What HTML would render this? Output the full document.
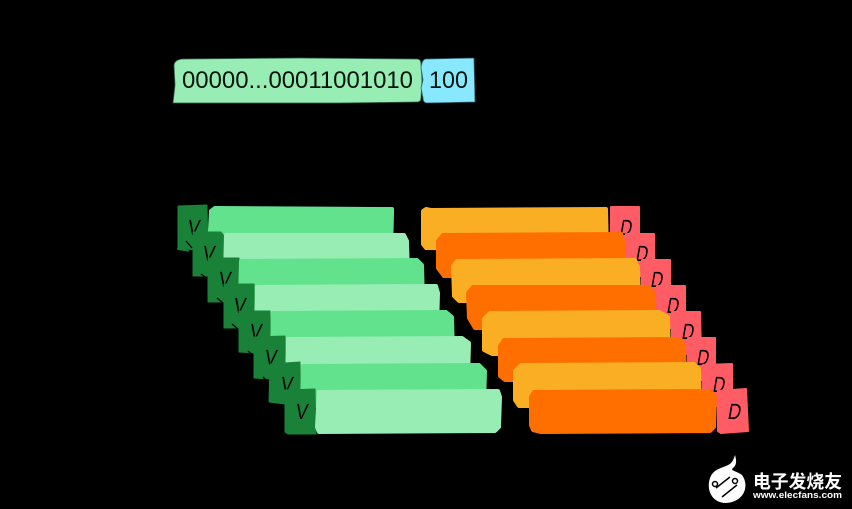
<!DOCTYPE html>
<html><head><meta charset="utf-8"><style>
html,body{margin:0;padding:0;background:#000;width:852px;height:509px;overflow:hidden}
svg{display:block}
.b{stroke-linejoin:round;stroke-width:4}
.lg{fill:#98EDB4;stroke:#98EDB4}.mg{fill:#63E28D;stroke:#63E28D}.dg{fill:#1A8238;stroke:#1A8238;stroke-width:1;stroke-linejoin:round}
.yo{fill:#F9AE23;stroke:#F9AE23}.or{fill:#FF6F00;stroke:#FF6F00}.rd{fill:#FF5C65;stroke:#FF5C65;stroke-width:2;stroke-linejoin:round}
.v,.d{font:22px "Liberation Sans",sans-serif;fill:#000}
.t{stroke:#000;stroke-width:1.3;fill:none}
</style></head><body>
<svg width="852" height="509" viewBox="0 0 852 509" xmlns="http://www.w3.org/2000/svg">
<rect width="852" height="509" fill="#000"/>
<!-- top register -->
<path d="M174 66Q174 60 182 59L300 58 417 59Q421 59 421 64L422 80 421 98Q421 102 417 102L340 103 240 103 173 103 175 85Z" fill="#98EDB4" stroke="#2b5f4a" stroke-width=".8"/>
<path d="M426 59L474 58 475 102 427 103Q423 103 423 98L421 88 423 80 421 68Q422 59 426 59Z" fill="#87E8FF" stroke="#2b5f6a" stroke-width=".8"/>
<text x="182" y="88" font-family="'Liberation Sans',sans-serif" font-size="24" fill="#06140c" textLength="231" lengthAdjust="spacingAndGlyphs">00000...00011001010</text>
<text x="429" y="88" font-family="'Liberation Sans',sans-serif" font-size="24" fill="#06140c" textLength="39" lengthAdjust="spacingAndGlyphs">100</text>

<!-- green column -->
<path class="dg" d="M178 206L207 205 208 250 178 249Z"/>
<path class="b mg" d="M211 211L215 208 392 209 392 213 391 250 209 250Z"/>
<text class="v" transform="translate(187 235) skewX(-8)" textLength="12" lengthAdjust="spacingAndGlyphs">V</text>
<path class="t" d="M186 241L192 248"/>
<path d="M177 249L189 251" stroke="#1A8238" stroke-width="1.5"/>

<path class="dg" d="M193 232L221 232 224 236 224 276 193 276Z"/>
<path class="b lg" d="M226 235L404 235 407 241 408 276 225 276Z"/>
<text class="v" transform="translate(202 261) skewX(-8)" textLength="12" lengthAdjust="spacingAndGlyphs">V</text>
<path class="t" d="M201 274L208 279"/>

<path class="dg" d="M208 258L239 258 239 302 208 302Z"/>
<path class="b mg" d="M241 261L417 260 422 265 423 302 240 302Z"/>
<text class="v" transform="translate(218 287) skewX(-8)" textLength="12" lengthAdjust="spacingAndGlyphs">V</text>
<path class="t" d="M217 298L223 303"/>

<path class="dg" d="M224 284L254 284 255 328 224 328Z"/>
<path class="b lg" d="M257 287L436 286 438 293 437 328 256 328Z"/>
<text class="v" transform="translate(233 313) skewX(-8)" textLength="12" lengthAdjust="spacingAndGlyphs">V</text>
<path class="t" d="M232 324L239 330"/>

<path class="dg" d="M239 311L270 311 271 354 239 352Z"/>
<path class="b mg" d="M273 313L446 312 452 317 453 354 272 354Z"/>
<text class="v" transform="translate(249 339) skewX(-8)" textLength="12" lengthAdjust="spacingAndGlyphs">V</text>
<path class="t" d="M248 351L255 357"/>

<path class="dg" d="M254 337L285 336 286 380 254 378Z"/>
<path class="b lg" d="M288 339L462 338 469 343 468 380 287 380Z"/>
<text class="v" transform="translate(264 365) skewX(-8)" textLength="12" lengthAdjust="spacingAndGlyphs">V</text>
<path class="t" d="M263 377L271 385"/>

<path class="dg" d="M270 364L300 362 301 406 269 402Z"/>
<path class="b mg" d="M303 366L479 365 485 371 484 406 302 406Z"/>
<text class="v" transform="translate(280 392) skewX(-8)" textLength="12" lengthAdjust="spacingAndGlyphs">V</text>
<path class="t" d="M279 405L286 411"/>

<path class="dg" d="M285 408L285 390 315 389 316 434 288 434 285 432Z"/>
<path class="b lg" d="M319 392L498 391 500 397 499 427 495 431 319 432 317 427Z"/>
<text class="v" transform="translate(295 419) skewX(-8)" textLength="12" lengthAdjust="spacingAndGlyphs">V</text>

<!-- orange column -->
<path class="b yo" d="M423 211L426 209 431 210 606 209 607 250 426 248 423 244Z"/>
<path class="rd" d="M611 207L639 207 639 250 611 250Z"/>
<text class="d" transform="translate(619 235) skewX(-10)" textLength="12" lengthAdjust="spacingAndGlyphs">D</text>

<path class="b or" d="M443 235L621 234 623 241 623 276 444 276 438 268 438 241Z"/>
<path class="rd" d="M626 234L654 234 654 276 626 276Z"/>
<text class="d" transform="translate(635 261) skewX(-10)" textLength="12" lengthAdjust="spacingAndGlyphs">D</text>

<path class="b yo" d="M457 261L635 260 638 267 639 302 459 301 454 296 453 266Z"/>
<path class="rd" d="M642 260L670 260 670 302 642 302Z"/>
<text class="d" transform="translate(650 287) skewX(-10)" textLength="12" lengthAdjust="spacingAndGlyphs">D</text>

<path class="b or" d="M473 287L649 287 654 294 654 328 475 328 469 318 468 293Z"/>
<path class="rd" d="M657 286L685 286 685 328 657 328Z"/>
<text class="d" transform="translate(666 313) skewX(-10)" textLength="12" lengthAdjust="spacingAndGlyphs">D</text>

<path class="b yo" d="M490 313L659 312 668 317 669 354 492 354 484 350 484 319Z"/>
<path class="rd" d="M672 312L700 312 701 354 672 354Z"/>
<text class="d" transform="translate(681 339) skewX(-10)" textLength="12" lengthAdjust="spacingAndGlyphs">D</text>

<path class="b or" d="M504 340L679 339 684 345 685 380 505 380 500 376 500 346Z"/>
<path class="rd" d="M688 338L715 338 715 380 688 380Z"/>
<text class="d" transform="translate(696 365) skewX(-10)" textLength="12" lengthAdjust="spacingAndGlyphs">D</text>

<path class="b yo" d="M521 365L694 364 699 369 700 406 519 406 515 400 515 371Z"/>
<path class="rd" d="M703 365L732 364 732 406 703 406Z"/>
<text class="d" transform="translate(712 392) skewX(-10)" textLength="12" lengthAdjust="spacingAndGlyphs">D</text>

<path class="b or" d="M534 392L711 391 715 397 714 427 710 431 541 432 533 430 531 425 531 397Z"/>
<path class="rd" d="M718 391L746 389 748 431 721 433 718 431Z"/>
<text class="d" transform="translate(727 419) skewX(-10)" textLength="13" lengthAdjust="spacingAndGlyphs">D</text>

<!-- logo -->
<path d="M735 455C737 462 736 465 734 467 729 471 735 470 742 475 750 486 744 502 726 503 712 503 706 490 710 478 714 467 726 468 731 463 733 461 734 458 735 455Z" fill="#fff"/>
<path d="M716 488L730 477M722 497L737 485" stroke="#000" stroke-width="1.5" fill="none"/>
<circle cx="715" cy="484" r="2.5" fill="#fff" stroke="#000" stroke-width="1.5"/>
<circle cx="735" cy="481" r="2.5" fill="#fff" stroke="#000" stroke-width="1.5"/>
<text x="753" y="488" font-family="'Liberation Sans','Noto Sans CJK SC',sans-serif" font-weight="700" font-size="18" fill="#fff" textLength="89" lengthAdjust="spacingAndGlyphs">电子发烧友</text>
<text x="753" y="498" font-family="'Liberation Sans',sans-serif" font-weight="700" font-size="9" fill="#fff" textLength="89" lengthAdjust="spacingAndGlyphs">www.elecfans.com</text>
</svg>
</body></html>
